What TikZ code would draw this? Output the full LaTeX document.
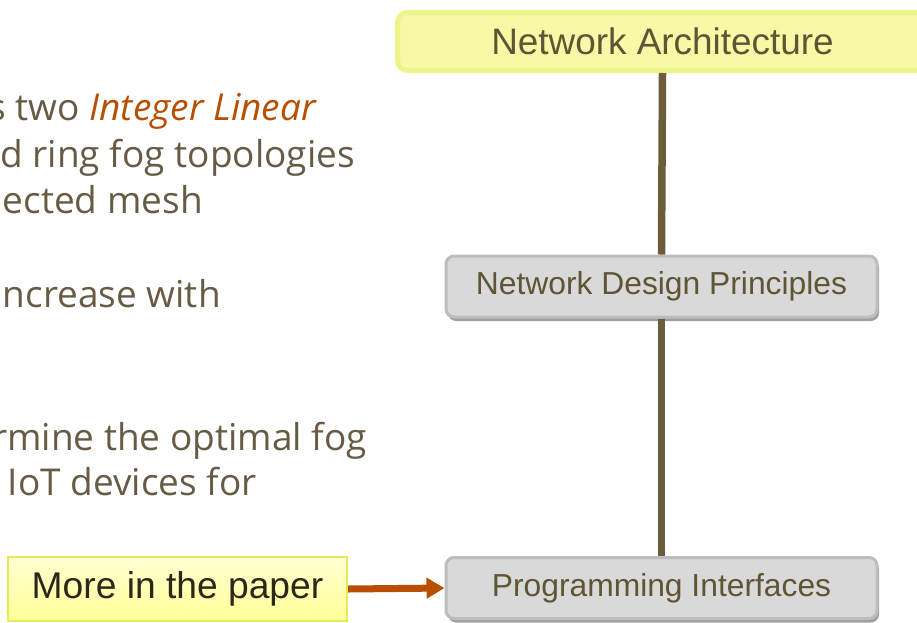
\documentclass[tikz,border=0pt]{standalone}
\usepackage{fontspec}
\setmainfont{Open Sans}
\newfontfamily\boxfont{Liberation Sans}
\usetikzlibrary{arrows.meta,shadows}
\definecolor{bodytext}{HTML}{675B45}
\definecolor{accent}{HTML}{B84F00}
\definecolor{stem}{HTML}{6B5D3B}
\definecolor{boxtext}{HTML}{5F5535}
\definecolor{greyfill}{HTML}{D9D9D9}
\definecolor{greyedge}{HTML}{BDBDBD}
\definecolor{lemonfill}{HTML}{F6F9A6}
\definecolor{lemonedge}{HTML}{EFF48A}
\definecolor{notetop}{HTML}{FFFFD2}
\definecolor{notebottom}{HTML}{FFFF96}
\definecolor{noteedge}{HTML}{E4EC5A}
\definecolor{notetext}{HTML}{2B2819}
\tikzset{
  bodyline/.style={anchor=base east, inner sep=0pt, text=bodytext,
    font=\fontsize{37}{46}\selectfont},
  greybox/.style={draw=greyedge, fill=greyfill, line width=3pt,
    rounded corners=8pt, minimum width=431pt, minimum height=61pt,
    inner sep=0pt, text=boxtext, font=\boxfont\fontsize{31.8}{38}\selectfont,
    drop shadow={shadow xshift=2pt, shadow yshift=-4pt, fill=black!50, opacity=0.75}},
  topbox/.style={draw=lemonedge, fill=lemonfill, line width=5pt,
    rounded corners=10pt, minimum width=530pt, minimum height=58pt,
    inner sep=0pt, text=boxtext, font=\boxfont\fontsize{36.9}{44}\selectfont},
  notebox/.style={draw=noteedge, line width=2pt, top color=notetop,
    bottom color=notebottom, minimum width=339pt, minimum height=64pt,
    inner sep=0pt, text=notetext, font=\boxfont\fontsize{37.2}{44}\selectfont},
  stemline/.style={draw=stem, line width=7.5pt},
  pointer/.style={draw=accent, line width=7pt,
    -{Triangle[length=18pt,width=20pt]}}
}
\begin{document}
\begin{tikzpicture}[x=1pt,y=-1pt]
  \useasboundingbox (0,0) rectangle (917,622);
  \clip (0,0) rectangle (917,622);

  % bullet text running in from the left
  \node[bodyline] (l1) at (316,120) {s two \textcolor{accent}{\itshape Integer Linear}};
  \node[bodyline] (l2) at (355,167) {d ring fog topologies};
  \node[bodyline] (l3) at (203,213) {nected mesh};
  \node[bodyline] (l4) at (221,307) {ncrease with};
  \node[bodyline] (l5) at (367,450) {rmine the optimal fog};
  \node[bodyline] (l6) at (257,495) {IoT devices for};

  % hierarchy boxes and the note
  \node[topbox]  (arch)   at (662.5,41.5) {Network Architecture};
  \node[greybox] (design) at (661.5,286.5) {\raisebox{-4pt}{Network Design Principles}};
  \node[greybox] (prog)   at (661.5,588)   {\raisebox{-4pt}{Programming Interfaces}};
  \node[notebox] (paper)  at (177.5,589)   {More in the paper};

  % connectors between the levels
  \draw[stemline] (arch.south) -- (design.north);
  \draw[stemline] (design.south) -- (prog.north);
  \draw[pointer] (paper.east) -- (prog.west);
\end{tikzpicture}
\end{document}
